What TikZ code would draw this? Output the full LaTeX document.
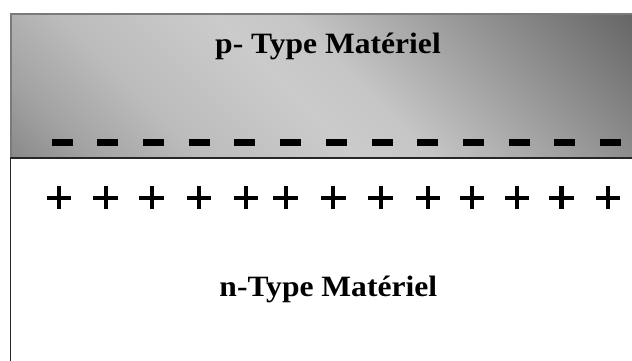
\documentclass[tikz,border=0pt]{standalone}
\usepackage{fontspec}
\setmainfont{Liberation Serif}

% grey tones of the p-type layer, from the lower-left corner to the upper-right corner
\definecolor{pgA}{gray}{0.54}
\definecolor{pgB}{gray}{0.635}
\definecolor{pgC}{gray}{0.737}
\definecolor{pgD}{gray}{0.796}
\definecolor{pgE}{gray}{0.776}
\definecolor{pgF}{gray}{0.65}
\definecolor{pgG}{gray}{0.525}
\definecolor{pgH}{gray}{0.40}
\definecolor{pborder}{gray}{0.48}
\definecolor{nborder}{gray}{0.15}

\pgfdeclarehorizontalshading{ptypeshade}{100bp}{%
  color(0bp)=(pgA); color(14.6bp)=(pgA); color(21.7bp)=(pgB);
  color(32.3bp)=(pgC); color(46.5bp)=(pgD); color(53.5bp)=(pgE);
  color(64.1bp)=(pgF); color(74.7bp)=(pgG); color(85.4bp)=(pgH);
  color(100bp)=(pgH)}

\tikzset{
  layerlabel/.style={font=\fontsize{29.5}{35}\selectfont\bfseries,
    xscale=1.07, inner sep=0pt, anchor=base},
  pedge/.style={draw=pborder, line width=1.8pt},
  nedge/.style={draw=nborder, line width=1.8pt},
  charge/.style={fill=black}
}

\begin{document}
\begin{tikzpicture}[x=1pt,y=-1pt]
  \useasboundingbox (0,0) rectangle (632,360);
  \fill[white] (0,0) rectangle (632,360);
  \begin{scope}
    \clip (0,0) rectangle (632,360);

    % p-type layer
    \shade[shading=ptypeshade, shading angle=45] (11,13.8) rectangle (633,157.8);
    \draw[pedge] (634,13.8) -- (11,13.8) -- (11,157.8);

    % n-type layer (junction line and left edge)
    \draw[nedge] (634,157.8) -- (10.5,157.8) -- (10.5,362);

    % negative charges along the p side of the junction
    \foreach \k in {0,...,12}
      \fill[charge] ({51.7+45.69*\k},139.3) rectangle +(21,6.4);

    % positive charges along the n side of the junction
    \foreach \x in {59,105.7,151.7,199,246,285.7,333.3,380.7,428,472,517,561.5,608} {
      \fill[charge] ({\x-12.3},196.1) rectangle ({\x+12.3},200.4);
      \fill[charge] ({\x-2.15},186.2) rectangle ({\x+2.15},209.3);
    }
  \end{scope}

  \node[layerlabel] (ptext) at (328,53.3) {p- Type Matériel};
  \node[layerlabel] (ntext) at (328.3,296.7) {n-Type Matériel};
\end{tikzpicture}
\end{document}
